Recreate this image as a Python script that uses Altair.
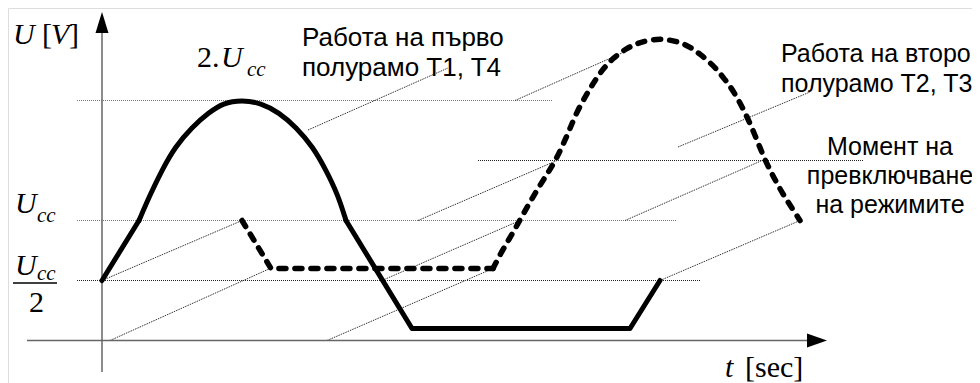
import altair as alt
import pandas as pd

# ---- data (t in arbitrary time units, U in volts with Ucc = 12) ----
UCC = 12
# solid curve: operation of the first half-bridge (T1, T4)
solid_t = [0.0, 3.7, 4.8, 6.0, 7.3, 9.0, 10.7, 12.1, 14.0, 15.9, 17.7, 19.4, 21.1, 22.4, 23.6, 24.4, 31.0, 52.8, 55.8]
solid_u = [6.0, 12.0, 14.55, 17.05, 19.35, 21.35, 22.8, 23.75, 24.05, 23.75, 22.8, 21.35, 19.35, 17.05, 14.55, 12.0, 1.2, 1.2, 6.0]
solid_smooth = (1, 15)          # index range drawn as a smooth curve

# dashed curve: operation of the second half-bridge (T2, T3)
dash_t = [14.0, 16.9, 39.1, 40.0, 40.9, 41.8, 42.6, 43.3, 44.1, 44.8, 45.5, 46.2, 46.8, 47.5, 48.5, 49.3, 50.1,
          51.1, 52.5, 53.8, 55.8, 57.8, 58.8, 59.8, 61.1, 62.1, 63.1, 64.3, 65.3, 66.2, 67.2, 68.2, 69.0, 69.8]
dash_u = [12.0, 7.2, 7.2, 8.95, 10.45, 12.05, 13.5, 14.7, 16.0, 17.1, 18.3, 19.8, 21.2, 22.9, 24.7, 26.0,
          27.15, 28.25, 29.25, 29.85, 30.25, 29.85, 29.35, 28.65, 27.55, 26.35, 25.05, 22.85, 20.55, 18.25, 16.25,
          14.45, 13.25, 12.0]
dash_smooth = (2, 33)

# horizontal dotted reference levels
level_u = [24, 12, 6, 18]
level_t0 = [-2.5, -2.5, -2.5, 37.6]
level_t1 = [45.1, 57.4, 59.8, 76.1]
level_col = ["#777777", "#777777", "#222222", "#222222"]

# thin slanted leader lines (switch moments / labels)
lead_t0 = [0.0, 0.8, 22.5, 28.0, 31.6, 52.3, 55.8, 20.6, 41.3, 57.6]
lead_u0 = [6.0, 0.0, 0.0, 6.0, 12.0, 12.0, 6.0, 21.05, 24.0, 19.35]
lead_t1 = [14.0, 16.8, 39.1, 41.8, 45.5, 66.0, 69.8, 34.6, 52.0, 70.8]
lead_u1 = [12.0, 7.2, 7.2, 12.0, 18.0, 18.0, 12.0, 27.25, 28.75, 24.85]

# ---- tables ----
def curve_rows(ts, us, smooth, name):
    rows = []
    a, b = smooth
    for i, (t, u) in enumerate(zip(ts, us)):
        if i <= a:
            rows.append(dict(t=t, U=u, seg=name + "_s0", kind="straight", o=i))
        if a <= i <= b:
            rows.append(dict(t=t, U=u, seg=name + "_c", kind="smooth", o=i))
        if i >= b:
            rows.append(dict(t=t, U=u, seg=name + "_s1", kind="straight", o=i))
    return rows

solid_df = pd.DataFrame(curve_rows(solid_t, solid_u, solid_smooth, "solid"))
dash_df = pd.DataFrame(curve_rows(dash_t, dash_u, dash_smooth, "dash"))

levels_df = pd.DataFrame(dict(U=level_u, t0=level_t0, t1=level_t1, c=level_col))
lead_df = pd.DataFrame(dict(t0=lead_t0, u0=lead_u0, t1=lead_t1, u1=lead_u1))

X_DOM = [-9.4, 87.0]
Y_DOM = [-4.25, 33.25]
xs = alt.Scale(domain=X_DOM, nice=False, zero=False)
ys = alt.Scale(domain=Y_DOM, nice=False, zero=False)

def X(f="t"):
    return alt.X(f"{f}:Q", scale=xs, axis=None)

def Y(f="U"):
    return alt.Y(f"{f}:Q", scale=ys, axis=None)

layers = []

# reference levels
layers.append(
    alt.Chart(levels_df).mark_rule(strokeWidth=1, strokeDash=[1, 1]).encode(
        x=X("t0"), x2="t1", y=Y(), color=alt.Color("c:N", scale=None)
    )
)
# leader lines
layers.append(
    alt.Chart(lead_df).mark_rule(strokeWidth=1, strokeDash=[1.5, 1], color="#333333").encode(
        x=X("t0"), x2="t1", y=Y("u0"), y2="u1"
    )
)

# axes
axes_df = pd.DataFrame(dict(t0=[0.0, -7.5], u0=[-3.15, 0.0], t1=[0.0, 70.5], u1=[30.9, 0.0]))
layers.append(
    alt.Chart(axes_df).mark_rule(strokeWidth=1.5, color="#666666").encode(
        x=X("t0"), x2="t1", y=Y("u0"), y2="u1"
    )
)
arrows_df = pd.DataFrame(dict(t=[0.0], U=[31.8]))
layers.append(
    alt.Chart(arrows_df).mark_point(shape="M0,-1L0.62,1L-0.62,1Z", size=441, filled=True, opacity=1,
                                     color="black", strokeWidth=0).encode(x=X(), y=Y())
)
arrows2_df = pd.DataFrame(dict(t=[71.5], U=[0.0]))
layers.append(
    alt.Chart(arrows2_df).mark_point(shape="M1,0L-1,0.7L-1,-0.7Z", size=400, filled=True, opacity=1,
                                      color="black", strokeWidth=0).encode(x=X(), y=Y())
)

# curves
for df, dash, width in [(solid_df, None, 5), (dash_df, [7, 9], 5.5)]:
    for kind, interp in [("straight", "linear"), ("smooth", "basis")]:
        kw = dict(interpolate=interp, color="black", strokeWidth=width, strokeCap="round", strokeJoin="round")
        if dash is not None:
            kw["strokeDash"] = dash
        layers.append(
            alt.Chart(df).transform_filter(alt.datum.kind == kind).mark_line(**kw).encode(
                x=X(), y=Y(), detail="seg:N", order="o:Q"
            )
        )

# fraction bar of Ucc/2
frac_df = pd.DataFrame(dict(t0=[-8.9], t1=[-4.5], U=[5.75]))
layers.append(
    alt.Chart(frac_df).mark_rule(strokeWidth=1.3, color="black").encode(x=X("t0"), x2="t1", y=Y())
)

# ---- text ----
serif_it = pd.DataFrame(dict(
    txt=["U", "V", "U", "U", "U", "t"],
    t=[-8.9, -5.1, 11.9, -8.7, -8.7, 62.3],
    U=[29.65, 29.65, 27.35, 12.75, 6.55, -3.65],
))
serif_up = pd.DataFrame(dict(
    txt=["[", "]", "2.", "2", "[sec]"],
    t=[-6.0, -3.3, 9.5, -7.3, 64.3],
    U=[29.65, 29.65, 27.35, 2.85, -3.65],
))
subs = pd.DataFrame(dict(
    txt=["cc", "cc", "cc"],
    t=[14.5, -6.5, -6.5],
    U=[26.45, 11.85, 6.05],
))
sans_left = pd.DataFrame(dict(
    txt=["Работа на първо", "полурамо T1, T4"],
    t=[20.0, 20.0],
    U=[29.45, 26.45],
))
sans_right = pd.DataFrame(dict(
    txt=["Работа на второ", "полурамо T2, T3"],
    t=[67.9, 67.9],
    U=[27.85, 24.85],
))
sans_center = pd.DataFrame(dict(
    txt=["Момент на", "превключване", "на режимите"],
    t=[78.8, 78.8, 78.8],
    U=[18.55, 15.65, 12.75],
))

def text_layer(df, font, size, style, align):
    return alt.Chart(df).mark_text(font=font, fontSize=size, fontStyle=style, align=align,
                                   baseline="alphabetic", color="black").encode(
        x=X(), y=Y(), text="txt:N")

layers.append(text_layer(serif_it, "Liberation Serif", 30, "italic", "left"))
layers.append(text_layer(serif_up, "Liberation Serif", 30, "normal", "left"))
layers.append(text_layer(subs, "Liberation Serif", 21, "italic", "left"))
layers.append(text_layer(sans_left, "Liberation Sans", 26, "normal", "left"))
layers.append(text_layer(sans_right, "Liberation Sans", 25, "normal", "left"))
layers.append(text_layer(sans_center, "Liberation Sans", 25, "normal", "center"))

chart = alt.layer(*layers).properties(
    width=964, height=375, padding=0, autosize=alt.AutoSizeParams(type="none")
).configure_view(stroke=None).configure(background="white")

chart.save("out.html", embed_options={"renderer": "svg", "actions": False})
